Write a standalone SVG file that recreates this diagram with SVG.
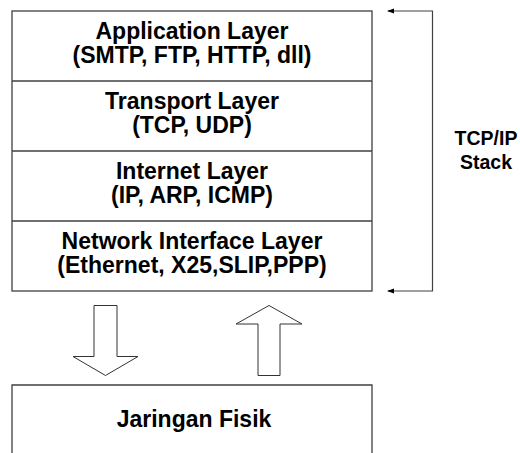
<svg xmlns="http://www.w3.org/2000/svg" width="520" height="453" viewBox="0 0 520 453">
<defs>
<style>
.box{fill:#fff;stroke:#404040;stroke-width:1.3}
.div{stroke:#404040;stroke-width:1.3}
.t{font-family:"Liberation Sans",Arial,sans-serif;font-weight:bold;font-size:23px;fill:#000;text-anchor:middle}
.s{font-family:"Liberation Sans",Arial,sans-serif;font-weight:bold;font-size:19.5px;fill:#000;text-anchor:middle}
.con{fill:none;stroke:#404040;stroke-width:1.2}
.blk{fill:#fff;stroke:#333;stroke-width:1}
</style>
<marker id="ah" markerWidth="8" markerHeight="6" refX="6" refY="3" orient="auto-start-reverse" markerUnits="userSpaceOnUse">
<path d="M7,3 L0,0.5 L0,5.5 Z" fill="#000"/>
</marker>
</defs>
<g id="stack">
<rect class="box" x="12" y="11" width="360" height="280"/>
<line class="div" x1="12" y1="81" x2="372" y2="81"/>
<line class="div" x1="12" y1="151" x2="372" y2="151"/>
<line class="div" x1="12" y1="221" x2="372" y2="221"/>
</g>
<g id="application">
<text class="t" x="192" y="39">Application Layer</text>
<text class="t" x="192" y="63">(SMTP, FTP, HTTP, dll)</text>
</g>
<g id="transport">
<text class="t" x="192" y="109">Transport Layer</text>
<text class="t" x="192" y="133">(TCP, UDP)</text>
</g>
<g id="internet">
<text class="t" x="192" y="179">Internet Layer</text>
<text class="t" x="192" y="203">(IP, ARP, ICMP)</text>
</g>
<g id="network">
<text class="t" x="192" y="249">Network Interface Layer</text>
<text class="t" x="192" y="273">(Ethernet, X25,SLIP,PPP)</text>
</g>
<g id="physical">
<path class="box" d="M12,460 L12,385 L372,385 L372,460"/>
<text class="t" x="194" y="427">Jaringan Fisik</text>
</g>
<g id="label">
<text class="s" x="486" y="145">TCP/IP</text>
<text class="s" x="486" y="169">Stack</text>
</g>
<g id="connectors">
<polyline class="con" points="388,11 432.5,11 432.5,291 388,291" marker-start="url(#ah)" marker-end="url(#ah)"/>
<polygon class="blk" points="94,305.5 117,305.5 117,356.5 138,356.5 105.5,375.5 73,356.5 94,356.5"/>
<polygon class="blk" points="258,375.5 280,375.5 280,324 302,324 269,305.5 236,324 258,324"/>
</g>
</svg>
